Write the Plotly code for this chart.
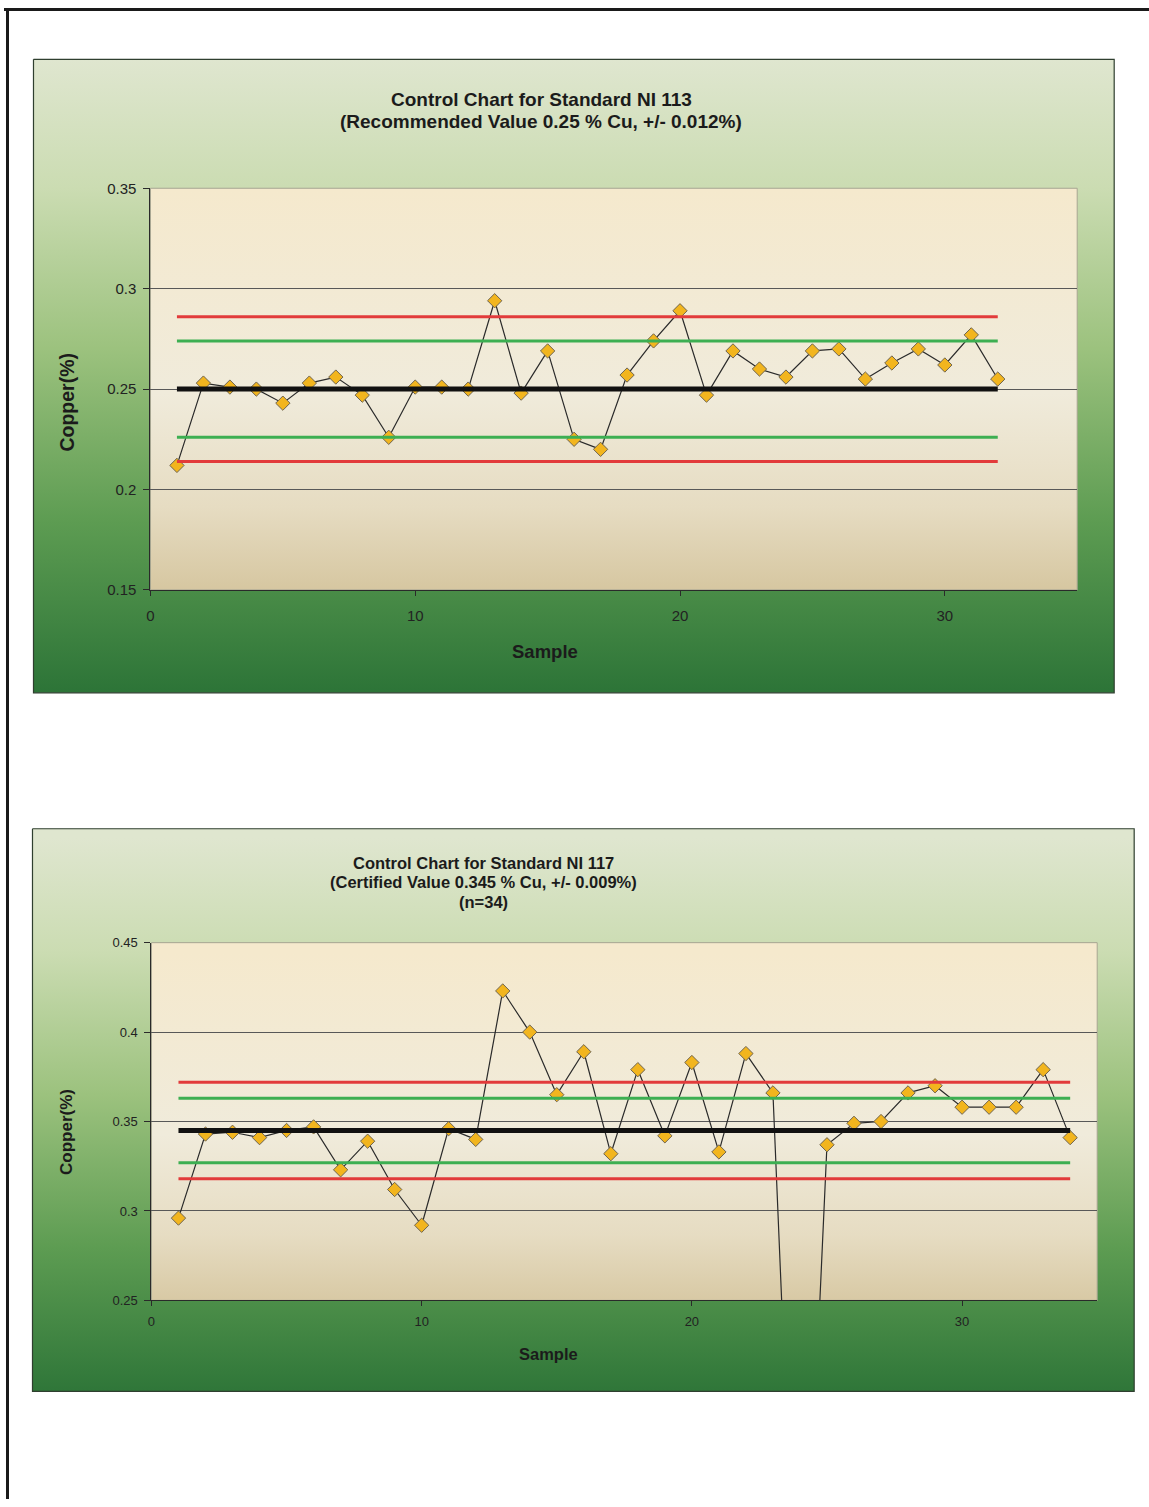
import plotly.graph_objects as go

# ---------------------------------------------------------------- data
# Standard NI 113 (recommended value 0.25 % Cu, s = 0.012 %)
ni113_mean = 0.25
ni113_sd = 0.012
ni113_copper = [0.212, 0.253, 0.251, 0.250, 0.243, 0.253, 0.256, 0.247,
                0.226, 0.251, 0.251, 0.250, 0.294, 0.248, 0.269, 0.225,
                0.220, 0.257, 0.274, 0.289, 0.247, 0.269, 0.260, 0.256,
                0.269, 0.270, 0.255, 0.263, 0.270, 0.262, 0.277, 0.255]

# Standard NI 117 (certified value 0.345 % Cu, s = 0.009 %)
ni117_mean = 0.345
ni117_sd = 0.009
ni117_copper = [0.296, 0.343, 0.344, 0.341, 0.345, 0.347, 0.323, 0.339,
                0.312, 0.292, 0.346, 0.340, 0.423, 0.400, 0.365, 0.389,
                0.332, 0.379, 0.342, 0.383, 0.333, 0.388, 0.366, 0.006,
                0.337, 0.349, 0.350, 0.366, 0.370, 0.358, 0.358, 0.358,
                0.379, 0.341]

ni113_title = ["Control Chart for Standard NI 113",
               "(Recommended Value 0.25 % Cu, +/- 0.012%)"]
ni117_title = ["Control Chart for Standard NI 117",
               "(Certified Value 0.345 % Cu, +/- 0.009%)",
               "(n=34)"]

# ---------------------------------------------------------------- page layout
W, H = 1149, 1507
FONT = "Liberation Sans, Arial, sans-serif"

# positions below are given in page pixels; the page shows the figure with a
# small inset, so they are converted to figure pixels first
PAGE_X0, PAGE_SX = 3.5, 0.9968
PAGE_Y0, PAGE_SY = 7.6, 0.9895


def fig_x(px):
    return (px - PAGE_X0) / PAGE_SX


def fig_y(py):
    return (py - PAGE_Y0) / PAGE_SY


def fx(px):
    return fig_x(px) / W


def fy(py):
    return 1 - fig_y(py) / H


charts = [
    dict(data=ni113_copper, mean=ni113_mean, sd=ni113_sd, title=ni113_title,
         box=(33, 58, 1114, 692), plot=(150, 187, 1077, 589),
         yrange=(0.15, 0.35), title_xy=(541, 109), title_size=19, title_gap=22,
         ylab_xy=(67, 401), xlab_xy=(545, 651), lab_size=18.5, ylab_size=19.5,
         tick_size=15, xtick_standoff=7),
    dict(data=ni117_copper, mean=ni117_mean, sd=ni117_sd, title=ni117_title,
         box=(32, 828, 1134, 1391), plot=(151, 942, 1097, 1300),
         yrange=(0.25, 0.45), title_xy=(483, 881.5), title_size=16.5, title_gap=19.5,
         ylab_xy=(66, 1131), xlab_xy=(548, 1354), lab_size=16.5, ylab_size=17,
         tick_size=13, xtick_standoff=4),
]

GREEN_SCALE = [[0.0, "#dfe6cf"], [0.2, "#cbdcb2"], [0.45, "#9cc27e"],
               [0.72, "#5d9c52"], [1.0, "#2a7236"]]
CREAM_SCALE = [[0.0, "#f5e9cd"], [0.5, "#f0ebdb"], [0.78, "#e6dcc2"],
               [1.0, "#d5c59e"]]

fig = go.Figure()


def gradient_rect(x0, y0, x1, y1, scale, edge, edge_w):
    x0, x1 = fig_x(x0), fig_x(x1)
    y0, y1 = fig_y(y0), fig_y(y1)
    fig.add_trace(go.Scatter(
        x=[x0, x1, x1, x0, x0], y=[y0, y0, y1, y1, y0],
        xaxis="x", yaxis="y", mode="lines", fill="toself",
        fillgradient=dict(type="vertical", colorscale=scale, start=y0, stop=y1),
        line=dict(color=edge, width=edge_w),
        hoverinfo="skip", showlegend=False))


# backdrop panels (figure-pixel axis spanning the whole figure)
for c in charts:
    gradient_rect(*c["box"], GREEN_SCALE, "#2f3f2f", 1.2)
    gradient_rect(*c["plot"], CREAM_SCALE, "#a7a592", 1)

layout_axes = dict(
    xaxis=dict(domain=[0, 1], range=[0, W], visible=False, fixedrange=True),
    yaxis=dict(domain=[0, 1], range=[H, 0], visible=False, fixedrange=True),
)

annotations = []
for i, c in enumerate(charts):
    n = i + 2
    xa, ya = f"x{n}", f"y{n}"
    values = c["data"]
    samples = list(range(1, len(values) + 1))
    first, last = samples[0], samples[-1]

    # measured copper
    fig.add_trace(go.Scatter(
        x=samples, y=values, xaxis=xa, yaxis=ya, mode="lines+markers",
        line=dict(color="#2a2a2a", width=1.2),
        marker=dict(symbol="diamond", size=11, color="#f2b51e",
                    line=dict(color="#6e6450", width=1)),
        showlegend=False))

    # warning (2 s) and action (3 s) limits, then the reference value
    m, s = c["mean"], c["sd"]
    for level, colour, width in [(m + 3 * s, "#e23b3b", 3), (m - 3 * s, "#e23b3b", 3),
                                 (m + 2 * s, "#3daf52", 3), (m - 2 * s, "#3daf52", 3),
                                 (m, "#111111", 5)]:
        fig.add_trace(go.Scatter(
            x=[first, last], y=[level, level], xaxis=xa, yaxis=ya, mode="lines",
            line=dict(color=colour, width=width), hoverinfo="skip",
            showlegend=False))

    px0, py0, px1, py1 = c["plot"]
    layout_axes[f"xaxis{n}"] = dict(
        domain=[fx(px0), fx(px1)], range=[0, 35], dtick=10, tick0=0,
        anchor=ya, showgrid=False, zeroline=False,
        showline=True, linecolor="#2a2a2a", linewidth=1.2,
        ticks="outside", ticklen=5, tickcolor="#2a2a2a",
        ticklabelstandoff=c["xtick_standoff"],
        tickfont=dict(family=FONT, size=c["tick_size"], color="#222222"))
    layout_axes[f"yaxis{n}"] = dict(
        domain=[fy(py1), fy(py0)], range=list(c["yrange"]), dtick=0.05,
        tick0=c["yrange"][0], anchor=xa, zeroline=False,
        showgrid=True, gridcolor="#585858", gridwidth=1,
        showline=True, linecolor="#2a2a2a", linewidth=1.2,
        ticks="outside", ticklen=6, tickcolor="#2a2a2a",
        ticklabelstandoff=4,
        tickfont=dict(family=FONT, size=c["tick_size"], color="#222222"))

    # chart title, centred lines
    tx, ty = c["title_xy"]
    lines = c["title"]
    for k, text in enumerate(lines):
        yline = ty + (k - (len(lines) - 1) / 2) * c["title_gap"]
        annotations.append(dict(
            text=f"<b>{text}</b>", x=fx(tx), y=fy(yline), xref="paper", yref="paper",
            xanchor="center", yanchor="middle", showarrow=False,
            font=dict(family=FONT, size=c["title_size"], color="#1b1b1b")))

    # axis titles
    yx, yy = c["ylab_xy"]
    annotations.append(dict(
        text="<b>Copper(%)</b>", x=fx(yx), y=fy(yy),
        xref="paper", yref="paper", xanchor="center", yanchor="middle",
        textangle=-90, showarrow=False,
        font=dict(family=FONT, size=c["ylab_size"], color="#1b1b1b")))
    lx, ly = c["xlab_xy"]
    annotations.append(dict(
        text="<b>Sample</b>", x=fx(lx), y=fy(ly),
        xref="paper", yref="paper", xanchor="center", yanchor="middle",
        showarrow=False,
        font=dict(family=FONT, size=c["lab_size"], color="#1b1b1b")))

# page frame rules along the top and left edges
shapes = [
    dict(type="line", xref="paper", yref="paper", x0=0, x1=1,
         y0=1 - 0.6 / H, y1=1 - 0.6 / H, line=dict(color="#1a1a1a", width=3)),
    dict(type="line", xref="paper", yref="paper", x0=fx(7), x1=fx(7),
         y0=1, y1=0, line=dict(color="#1a1a1a", width=3)),
]

fig.update_layout(
    width=W, height=H, autosize=False,
    margin=dict(l=0, r=0, t=0, b=0),
    paper_bgcolor="white", plot_bgcolor="rgba(0,0,0,0)",
    font=dict(family=FONT, color="#1b1b1b"),
    showlegend=False, annotations=annotations, shapes=shapes,
    **layout_axes)

fig.write_html("out.html")
